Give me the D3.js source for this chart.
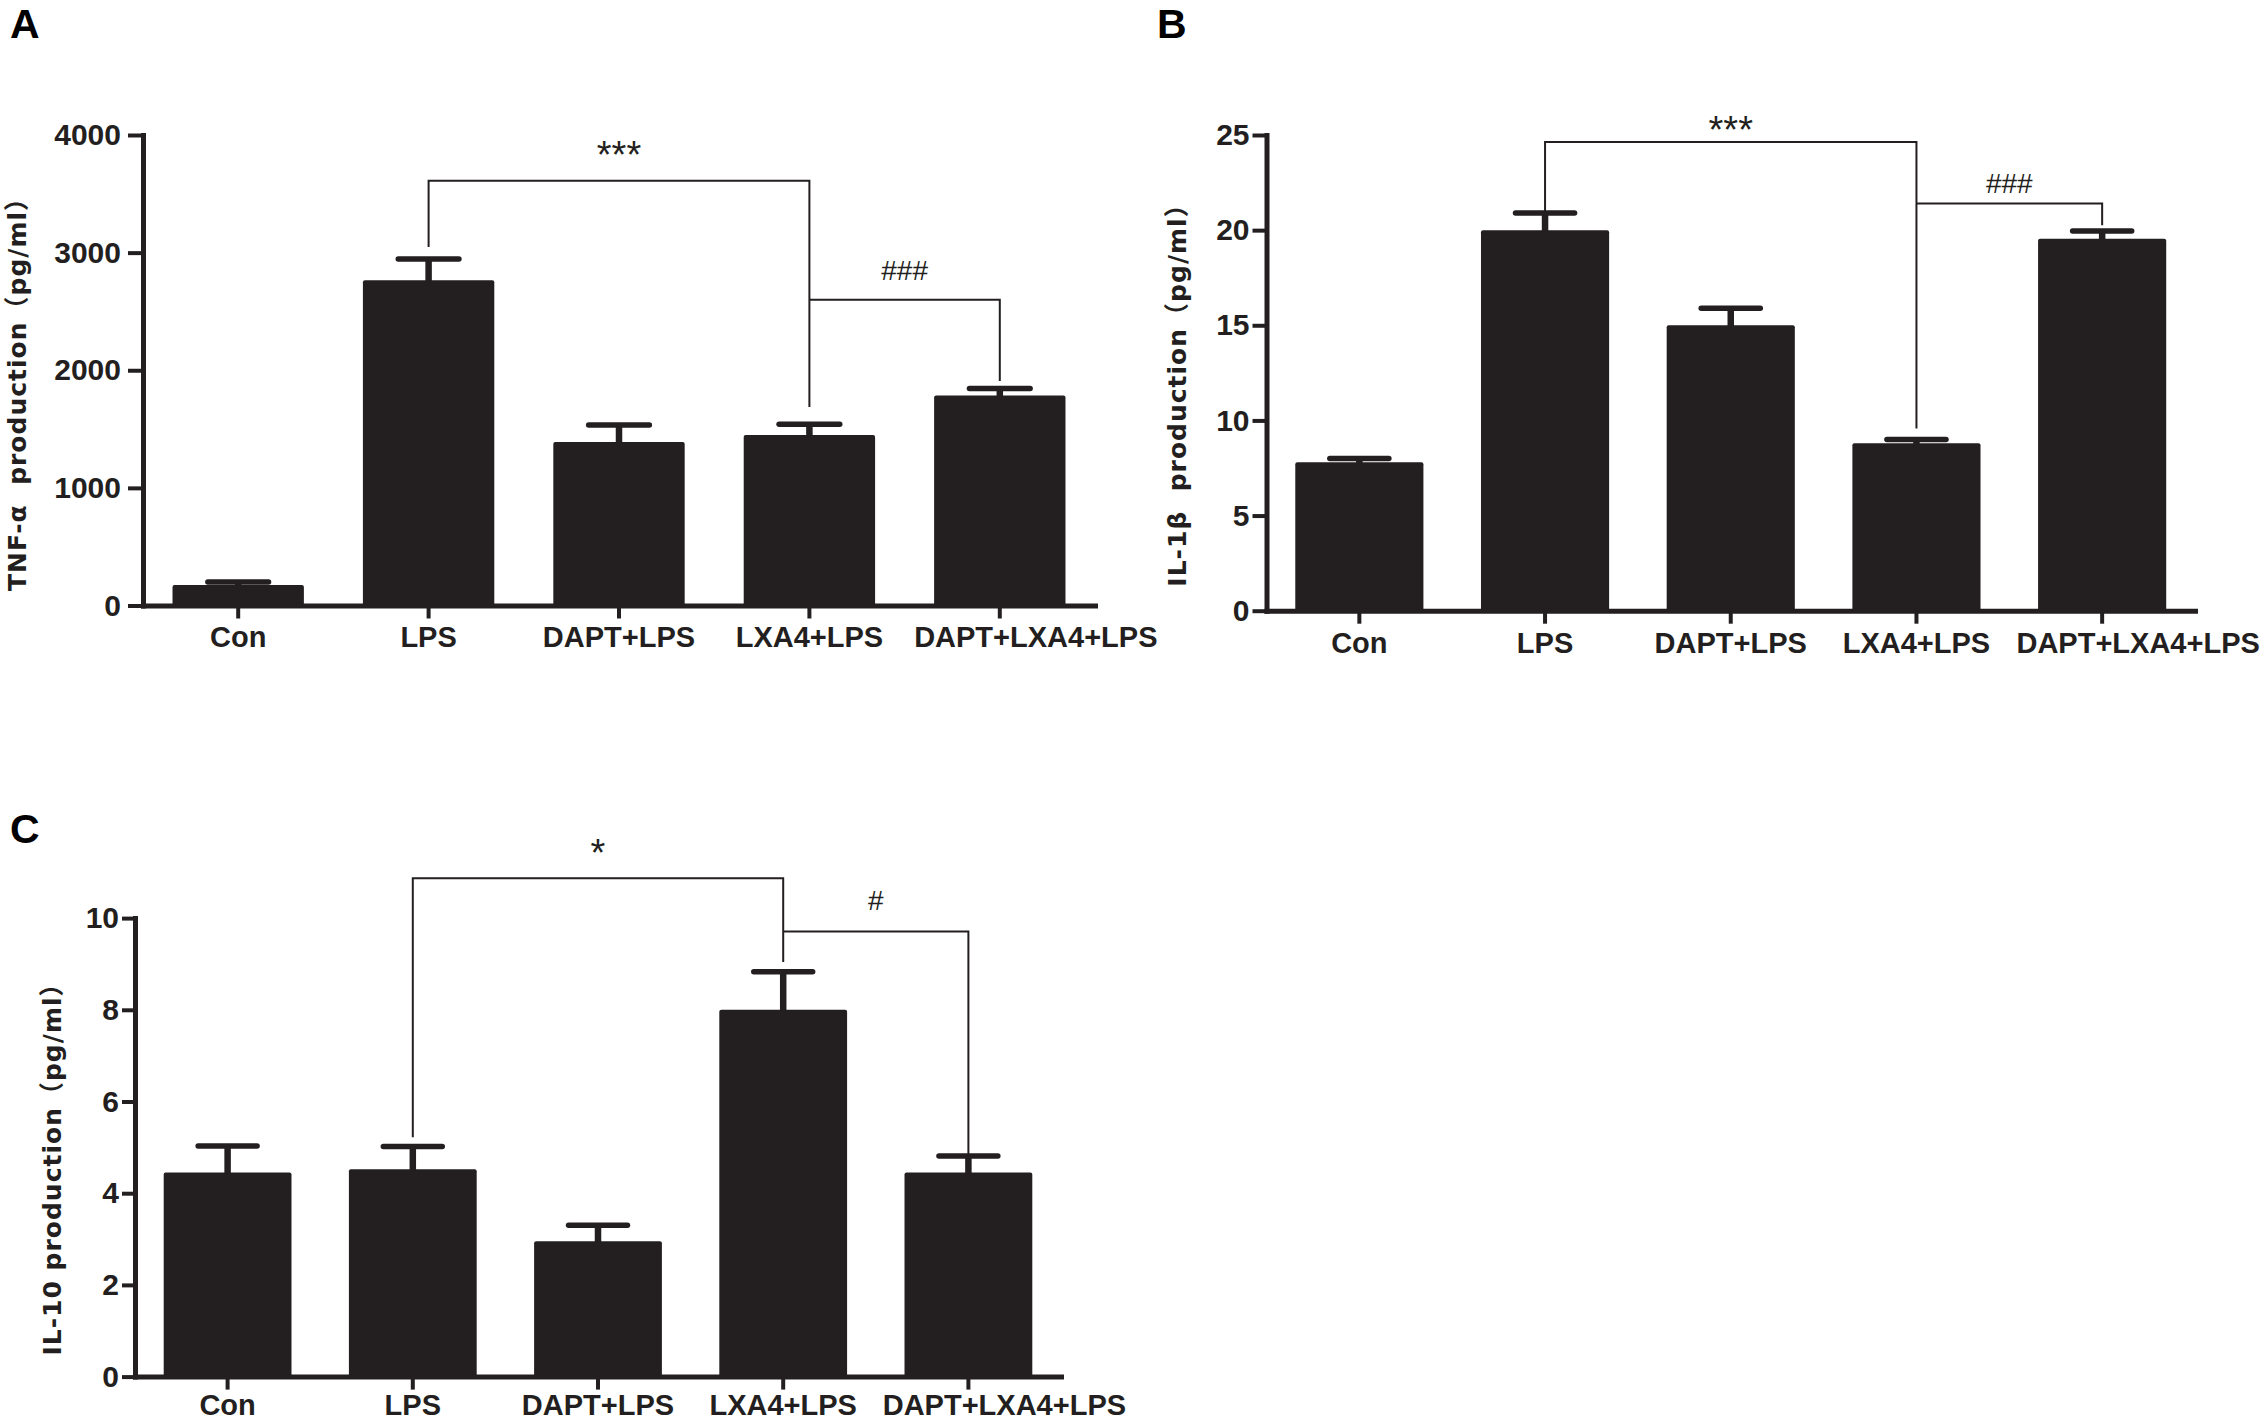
<!DOCTYPE html>
<html>
<head>
<meta charset="utf-8">
<script src="https://cdn.jsdelivr.net/npm/d3@7/dist/d3.min.js"></script>
<style>
  body { margin: 0; background: #fff; }
  svg { display: block; }
</style>
</head>
<body>
<script>
////////////////////////////////////////////// DATA //////////////////////////////////////////////

var groups = ["Con", "LPS", "DAPT+LPS", "LXA4+LPS", "DAPT+LXA4+LPS"];

// A: TNF-alpha
var tnfMean = [175, 2765, 1390, 1450, 1785];
var tnfErr = [25, 180, 145, 90, 60];
var tnfTicks = [0, 1000, 2000, 3000, 4000];
var tnfBrackets = [
    {from: 1, to: 3, y: 3610, fromEnd: 3048, toEnd: 1688, label: "***", labelY: 3900},
    {from: 3, to: 4, y: 2600, fromEnd: 2600, toEnd: 1909, label: "###", labelY: 2845}
];

// B: IL-1beta
var il1bMean = [7.8, 20.0, 15.0, 8.8, 19.55];
var il1bErr = [0.2, 0.9, 0.9, 0.2, 0.4];
var il1bTicks = [0, 5, 10, 15, 20, 25];
var il1bBrackets = [
    {from: 1, to: 3, y: 24.63, fromEnd: 20.99, toEnd: 9.57, label: "***", labelY: 25.67},
    {from: 3, to: 4, y: 21.4, fromEnd: 21.4, toEnd: 20.26, label: "###", labelY: 22.47}
];

// C: IL-10
var il10Mean = [4.45, 4.52, 2.95, 8.0, 4.45];
var il10Err = [0.58, 0.5, 0.35, 0.83, 0.36];
var il10Ticks = [0, 2, 4, 6, 8, 10];
var il10Brackets = [
    {from: 1, to: 3, y: 10.87, fromEnd: 5.22, toEnd: 9.04, label: "*", labelY: 11.6},
    {from: 3, to: 4, y: 9.71, fromEnd: 9.71, toEnd: 4.83, label: "#", labelY: 10.38}
];

////////////////////////////////////////////// LAYOUT //////////////////////////////////////////////

var width = 2267,
    height = 1422,
    ink = "#231f20",
    tickFont = "'Liberation Sans', Arial, sans-serif",
    titleFont = "'DejaVu Sans', 'Noto Sans CJK SC', sans-serif";

var panels = [
    {letter: "A", lx: 10, ly: 38, mean: tnfMean, err: tnfErr, ticks: tnfTicks, max: 4000, brackets: tnfBrackets,
     x0: 143, x1: 1095, y0: 605.5, y1: 135, yTick: 15, yPad: 7, xPad: 8.4,
     title: "TNF-α  production（pg/ml）", tx: 26, ty: 388},
    {letter: "B", lx: 1157, ly: 38, mean: il1bMean, err: il1bErr, ticks: il1bTicks, max: 25, brackets: il1bBrackets,
     x0: 1266.5, x1: 2195, y0: 610.7, y1: 135, yTick: 14, yPad: 3, xPad: 8.4,
     title: "IL-1β  production（pg/ml）", tx: 1186, ty: 389},
    {letter: "C", lx: 10, ly: 843, mean: il10Mean, err: il10Err, ticks: il10Ticks, max: 10, brackets: il10Brackets,
     x0: 135, x1: 1061, y0: 1376.6, y1: 918.1, yTick: 13, yPad: 3, xPad: 4.5,
     title: "IL-10 production（pg/ml）", tx: 61, ty: 1163}
];

var svg = d3.select("body").append("svg")
    .attr("width", width)
    .attr("height", height);

svg.append("rect").attr("width", width).attr("height", height).attr("fill", "#fff");

function drawPanel(p) {
    var x = d3.scaleBand()
        .domain(groups)
        .range([p.x0, p.x1])
        .paddingInner(0.31)
        .paddingOuter(0.155);
    var y = d3.scaleLinear()
        .domain([0, p.max])
        .range([p.y0, p.y1]);
    var cx = function (i) { return x(groups[i]) + x.bandwidth() / 2; };
    var capHalf = x.bandwidth() / 4 - 2.5;

    var g = svg.append("g");

    // bars
    g.selectAll("rect.bar")
        .data(p.mean)
        .enter()
        .append("rect")
        .attr("class", "bar")
        .attr("x", function (d, i) { return x(groups[i]); })
        .attr("y", function (d) { return y(d); })
        .attr("width", x.bandwidth())
        .attr("height", function (d) { return p.y0 - y(d); })
        .attr("rx", 2)
        .attr("fill", ink);

    // error bars (upper only)
    g.selectAll("line.stem")
        .data(p.mean)
        .enter()
        .append("line")
        .attr("class", "stem")
        .attr("x1", function (d, i) { return cx(i); })
        .attr("x2", function (d, i) { return cx(i); })
        .attr("y1", function (d) { return y(d) + 1; })
        .attr("y2", function (d, i) { return y(d + p.err[i]); })
        .attr("stroke", ink)
        .attr("stroke-width", 6.5);

    g.selectAll("line.cap")
        .data(p.mean)
        .enter()
        .append("line")
        .attr("class", "cap")
        .attr("x1", function (d, i) { return cx(i) - capHalf; })
        .attr("x2", function (d, i) { return cx(i) + capHalf; })
        .attr("y1", function (d, i) { return y(d + p.err[i]); })
        .attr("y2", function (d, i) { return y(d + p.err[i]); })
        .attr("stroke", ink)
        .attr("stroke-width", 5.5)
        .attr("stroke-linecap", "round");

    // axes
    var yAxis = d3.axisLeft(y)
        .tickValues(p.ticks)
        .tickFormat(d3.format("d"))
        .tickSize(p.yTick)
        .tickSizeOuter(0)
        .tickPadding(p.yPad);
    var yg = g.append("g")
        .attr("transform", "translate(" + p.x0 + ",0)")
        .call(yAxis);

    var xAxis = d3.axisBottom(x)
        .tickSize(13)
        .tickSizeOuter(0)
        .tickPadding(p.xPad);
    var xg = g.append("g")
        .attr("transform", "translate(0," + p.y0 + ")")
        .call(xAxis);

    [yg, xg].forEach(function (a) {
        a.attr("font-family", tickFont)
            .attr("font-weight", "bold");
        a.select(".domain")
            .attr("stroke", ink)
            .attr("stroke-width", 5)
            .attr("stroke-linecap", "square");
        a.selectAll(".tick line")
            .attr("stroke", ink)
            .attr("stroke-width", 4);
        a.selectAll(".tick text").attr("fill", ink);
    });
    yg.attr("font-size", 30);
    xg.attr("font-size", 29);
    // the long last label is nudged right in the original so it does not hit its neighbour
    xg.selectAll(".tick text")
        .filter(function (d, i) { return i == groups.length - 1; })
        .attr("x", 36);

    // significance brackets
    g.selectAll("path.bracket")
        .data(p.brackets)
        .enter()
        .append("path")
        .attr("class", "bracket")
        .attr("d", function (b) {
            return "M" + cx(b.from) + "," + y(b.fromEnd) +
                "V" + y(b.y) + "H" + cx(b.to) + "V" + y(b.toEnd);
        })
        .attr("fill", "none")
        .attr("stroke", ink)
        .attr("stroke-width", 2);

    g.selectAll("text.sig")
        .data(p.brackets)
        .enter()
        .append("text")
        .attr("class", "sig")
        .attr("x", function (b) { return (cx(b.from) + cx(b.to)) / 2; })
        .attr("y", function (b) {
            // asterisks sit high in the em box, hashes sit on the baseline
            return b.label.charAt(0) == "*" ? y(b.labelY) + 21 : y(b.labelY) + 9.5;
        })
        .attr("text-anchor", "middle")
        .attr("font-family", tickFont)
        .attr("font-size", function (b) { return b.label.charAt(0) == "*" ? 38 : 28; })
        .attr("fill", ink)
        .text(function (b) { return b.label; });

    // y title
    g.append("text")
        .attr("transform", "translate(" + p.tx + "," + p.ty + ") rotate(-90)")
        .attr("text-anchor", "middle")
        .attr("font-family", titleFont)
        .attr("font-weight", "bold")
        .attr("font-size", 25)
        .attr("letter-spacing", 1)
        .attr("fill", ink)
        .style("white-space", "pre")
        .text(p.title);

    // panel letter
    g.append("text")
        .attr("x", p.lx)
        .attr("y", p.ly)
        .attr("font-family", tickFont)
        .attr("font-weight", "bold")
        .attr("font-size", 41)
        .attr("fill", "#000")
        .text(p.letter);
}

panels.forEach(drawPanel);
</script>
</body>
</html>
